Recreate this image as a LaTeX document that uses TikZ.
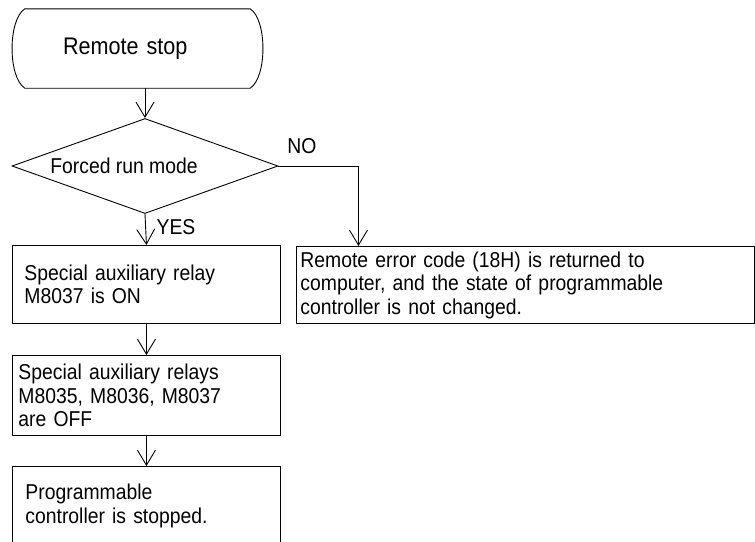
\documentclass[tikz,border=0pt]{standalone}
\usepackage{fontspec}
\setmainfont[FakeStretch=0.9]{Liberation Sans}
\usetikzlibrary{shapes.geometric, arrows.meta, positioning}
\tikzset{
    % Node styles - plain black outlines
    stepbox/.style={
        rectangle,
        draw,
        line width=0.9pt,
        anchor=north west,
        inner ysep=0pt,
        align=left,
        font=\fontsize{21.5}{23.5}\selectfont
    },
    termbox/.style={
        rectangle,
        draw=none,
        minimum width=251pt,
        minimum height=79pt,
        inner ysep=0pt,
        inner xsep=51pt,
        text width=149pt,
        align=left,
        font=\fontsize{24}{26}\selectfont
    },
    decbox/.style={
        diamond,
        draw,
        line width=0.9pt,
        aspect=2.8,
        inner sep=0pt,
        minimum width=266pt,
        minimum height=95pt
    },
    answer/.style={
        font=\fontsize{21.5}{23.5}\selectfont
    },
    % Arrow styles
    flowarrow/.style={
        line width=0.9pt,
        -{Straight Barb[length=15pt,width=18pt,line width=0.9pt]}
    }
}
\begin{document}
\begin{tikzpicture}[x=1pt, y=-1pt]
    \useasboundingbox (0,0) rectangle (755,541);
    \clip (0,0) rectangle (755,541);

    % Start
    \node[termbox] (start) at (137.5,48.5) {Remote stop};
    \draw[line width=0.9pt] ([xshift=13pt]start.north west) -- ([xshift=-13pt]start.north east)
        .. controls ([xshift=4pt,yshift=-11pt]start.north east) and ([xshift=4pt,yshift=11pt]start.south east) .. ([xshift=-13pt]start.south east)
        -- ([xshift=13pt]start.south west)
        .. controls ([xshift=-4pt,yshift=11pt]start.south west) and ([xshift=-4pt,yshift=-11pt]start.north west) .. cycle;

    % Decision
    \node[decbox, label={[answer, xshift=-21pt]center:Forced run mode}] (mode) at (145,166) {};

    % Forced run mode: YES
    \node[stepbox, minimum width=268pt, minimum height=78pt, inner xsep=12pt, text width=244pt] (relay) at (12,245) {Special auxiliary relay\\M8037 is ON};
    \node[stepbox, minimum width=268pt, minimum height=80pt, inner xsep=6pt, text width=256pt] (reset) at (12,355) {Special auxiliary relays\\M8035, M8036, M8037\\are OFF};
    \node[stepbox, minimum width=268pt, minimum height=79pt, inner xsep=13pt, text width=242pt] (stopped) at (12,466) {Programmable\\controller is stopped.};

    % Forced run mode: NO
    \node[stepbox, minimum width=458pt, minimum height=77pt, inner xsep=4pt, text width=450pt] (error) at (296,246) {Remote error code (18H) is returned to\\computer, and the state of programmable\\controller is not changed.};

    % Answers
    \node[answer] (no) at (302,146) {NO};
    \node[answer] (yes) at (176,227) {YES};

    % Arrows
    \draw[flowarrow] (mode.north |- start.south) -- (mode.north);
    \draw[flowarrow] (mode.south) -- (relay.north);
    \draw[flowarrow] (relay.south) -- (reset.north);
    \draw[flowarrow] (reset.south) -- (stopped.north);
    \draw[flowarrow] (mode.east) -| ([xshift=-167pt]error.north);
\end{tikzpicture}
\end{document}
